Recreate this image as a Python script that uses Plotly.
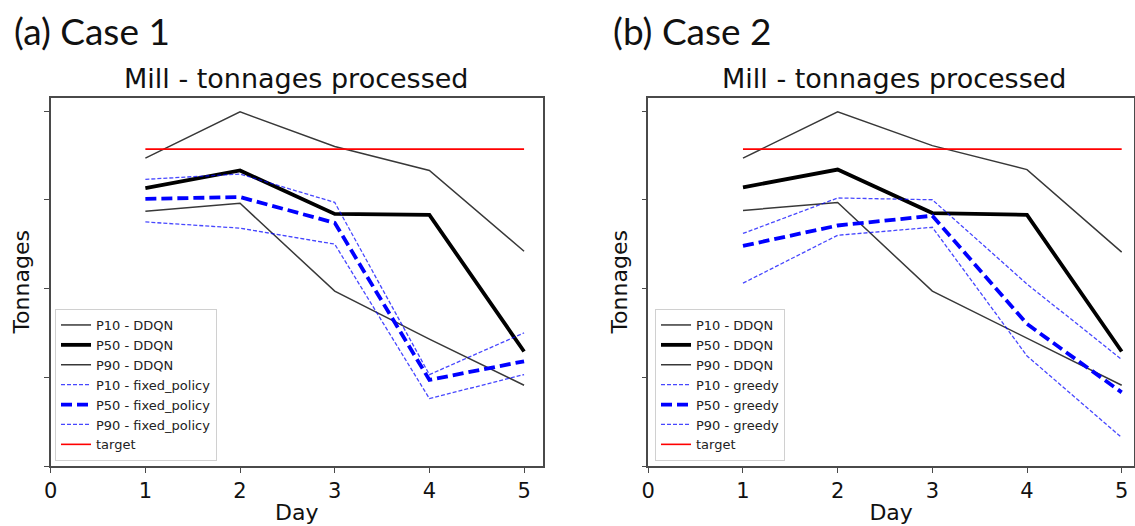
import plotly.graph_objects as go

# ---------------- data (y in axis tick units; tick labels hidden in the original) ----------------
days = [1, 2, 3, 4, 5]
x_ticks = [0, 1, 2, 3, 4, 5]
y_ticks = [0, 1, 2, 3, 4]

# Case 1
c1_p10_ddqn = [3.47, 3.99, 3.60, 3.33, 2.42]
c1_p50_ddqn = [3.13, 3.33, 2.84, 2.83, 1.29]
c1_p90_ddqn = [2.87, 2.96, 1.97, 1.43, 0.91]
c1_p10_fixed = [3.23, 3.29, 2.97, 1.03, 1.50]
c1_p50_fixed = [3.01, 3.03, 2.74, 0.97, 1.18]
c1_p90_fixed = [2.75, 2.68, 2.50, 0.76, 1.03]
c1_target = [3.57, 3.57, 3.57, 3.57, 3.57]

# Case 2
c2_p10_ddqn = [3.47, 3.99, 3.61, 3.34, 2.41]
c2_p50_ddqn = [3.14, 3.34, 2.85, 2.83, 1.29]
c2_p90_ddqn = [2.88, 2.97, 1.97, 1.44, 0.91]
c2_p10_greedy = [2.62, 3.02, 3.00, 2.05, 1.20]
c2_p50_greedy = [2.48, 2.71, 2.82, 1.60, 0.83]
c2_p90_greedy = [2.06, 2.60, 2.69, 1.24, 0.32]
c2_target = [3.57, 3.57, 3.57, 3.57, 3.57]

W, H = 1135, 526
FONT_MPL = "DejaVu Sans"
FONT_DOC = "Lato"

thin_black = dict(color="rgba(0,0,0,0.78)", width=1.5)
thick_black = dict(color="#000000", width=3.8)
thin_blue = dict(color="rgba(0,0,255,0.72)", width=1.3, dash="4px,2px")
thick_blue = dict(color="#0000ff", width=3.8, dash="11px,5px")
red = dict(color="#ff0000", width=1.6)

fig = go.Figure()

def add_panel(series, xa, ya, leg):
    for name, vals, style in series:
        fig.add_trace(go.Scatter(
            x=days, y=vals, mode="lines", name=name, line=style,
            xaxis=xa, yaxis=ya, legend=leg, hoverinfo="skip"))

add_panel([
    ("P10 - DDQN", c1_p10_ddqn, thin_black),
    ("P50 - DDQN", c1_p50_ddqn, thick_black),
    ("P90 - DDQN", c1_p90_ddqn, thin_black),
    ("P10 - fixed_policy", c1_p10_fixed, thin_blue),
    ("P50 - fixed_policy", c1_p50_fixed, thick_blue),
    ("P90 - fixed_policy", c1_p90_fixed, thin_blue),
    ("target", c1_target, red),
], "x", "y", "legend")

add_panel([
    ("P10 - DDQN", c2_p10_ddqn, thin_black),
    ("P50 - DDQN", c2_p50_ddqn, thick_black),
    ("P90 - DDQN", c2_p90_ddqn, thin_black),
    ("P10 - greedy", c2_p10_greedy, thin_blue),
    ("P50 - greedy", c2_p50_greedy, thick_blue),
    ("P90 - greedy", c2_p90_greedy, thin_blue),
    ("target", c2_target, red),
], "x2", "y2", "legend2")

def px_x(p):
    return p / W

def px_y(p):
    return (H - p) / H

axis_common = dict(
    showline=True, mirror=True, linecolor="#4a4a4a", linewidth=1.5,
    ticks="outside", ticklen=5, tickwidth=1.2, tickcolor="#4a4a4a",
    showgrid=False, zeroline=False, fixedrange=True, automargin=False,
)
xaxis_common = dict(axis_common, tickvals=x_ticks,
                    tickfont=dict(family=FONT_MPL, size=21, color="#111"),
                    title=dict(text="Day", font=dict(family=FONT_MPL, size=22, color="#111"), standoff=3))
yaxis_common = dict(axis_common, tickvals=y_ticks, showticklabels=False, range=[0, 4.15],
                    title=dict(text="Tonnages", font=dict(family=FONT_MPL, size=22, color="#111"), standoff=8))

legend_common = dict(
    xanchor="left", yanchor="top", bgcolor="rgba(255,255,255,0.85)",
    bordercolor="#d0d0d0", borderwidth=1,
    font=dict(family=FONT_MPL, size=13, color="#222"), traceorder="normal",
)

fig.update_layout(
    width=W, height=H,
    margin=dict(l=0, r=0, t=0, b=0, autoexpand=False),
    paper_bgcolor="white", plot_bgcolor="white",
    xaxis=dict(xaxis_common, domain=[px_x(50.7), px_x(543)], range=[0, 5.2], anchor="y"),
    yaxis=dict(yaxis_common, domain=[px_y(466), px_y(97.7)], anchor="x"),
    xaxis2=dict(xaxis_common, domain=[px_x(648.3), px_x(1134)], range=[0, 5.13], anchor="y2"),
    yaxis2=dict(yaxis_common, domain=[px_y(466), px_y(97.7)], anchor="x2"),
    legend=dict(legend_common, x=px_x(55), y=px_y(309)),
    legend2=dict(legend_common, x=px_x(655), y=px_y(309)),
    showlegend=True,
    annotations=[
        dict(text="(a) Case 1", x=px_x(12), y=px_y(30), xref="paper", yref="paper",
             xanchor="left", yanchor="middle", showarrow=False,
             font=dict(family=FONT_DOC, size=37, color="#111")),
        dict(text="(b) Case 2", x=px_x(611), y=px_y(30), xref="paper", yref="paper",
             xanchor="left", yanchor="middle", showarrow=False,
             font=dict(family=FONT_DOC, size=37, color="#111")),
        dict(text="Mill - tonnages processed", x=px_x((50.7 + 543) / 2), y=px_y(78),
             xref="paper", yref="paper", xanchor="center", yanchor="middle", showarrow=False,
             font=dict(family=FONT_MPL, size=27, color="#111")),
        dict(text="Mill - tonnages processed", x=px_x(648.3 + 5.2 * 94.7 / 2), y=px_y(78),
             xref="paper", yref="paper", xanchor="center", yanchor="middle", showarrow=False,
             font=dict(family=FONT_MPL, size=27, color="#111")),
    ],
)

fig.write_html("out.html", config={"displayModeBar": False},
               post_script="document.body.style.margin='0px';document.body.style.padding='0px';")
